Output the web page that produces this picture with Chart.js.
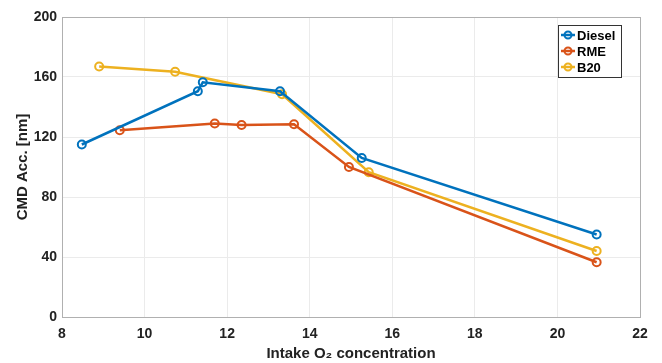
<!DOCTYPE html>
<html lang="en">
<head>
    <meta charset="UTF-8">
    <title>CMD Acc. vs Intake O2</title>
    <script src="https://cdn.jsdelivr.net/npm/chart.js"></script>
    <style>
        html, body { margin: 0; padding: 0; background: #fff; }
        #wrap { width: 662px; height: 363px; }
    </style>
</head>
<body>
    <div id="wrap"><canvas id="chart" width="662" height="363"></canvas></div>
    <script>
        // data
        var seriesNames = ['Diesel', 'RME', 'B20'];
        var seriesColors = ['#0072BD', '#D95319', '#EDB120'];

        var dieselX = [8.48, 11.29, 11.41, 13.28, 15.26, 20.95];
        var dieselY = [115, 150.5, 156.5, 150.5, 106, 55];

        var rmeX = [9.40, 11.70, 12.35, 13.62, 14.95, 20.95];
        var rmeY = [124.5, 129, 128, 128.5, 100, 36.5];

        var b20X = [8.90, 10.74, 13.33, 15.43, 20.95];
        var b20Y = [167, 163.5, 148.5, 96.5, 44];

        var xTicks = [8, 10, 12, 14, 16, 18, 20, 22];
        var yTicks = [0, 40, 80, 120, 160, 200];

        function toPoints(xs, ys) {
            return xs.map(function (x, i) { return { x: x, y: ys[i] }; });
        }

        var allX = [dieselX, rmeX, b20X];
        var allY = [dieselY, rmeY, b20Y];

        var datasets = seriesNames.map(function (name, i) {
            return {
                label: name,
                data: toPoints(allX[i], allY[i]),
                borderColor: seriesColors[i],
                backgroundColor: '#ffffff',
                borderWidth: 2.5,
                pointRadius: 4,
                pointBorderWidth: 2,
                pointBackgroundColor: 'rgba(255,255,255,0)',
                pointBorderColor: seriesColors[i],
                tension: 0,
                showLine: true
            };
        });

        // box round the plot + legend drawn inside, MATLAB style
        var boxAndLegend = {
            id: 'boxAndLegend',
            afterDraw: function (chart) {
                var ctx = chart.ctx;
                var a = chart.chartArea;
                ctx.save();
                ctx.strokeStyle = '#b0b0b0';
                ctx.lineWidth = 1;
                ctx.strokeRect(a.left + 0.5, a.top + 0.5, a.right - a.left, a.bottom - a.top);

                var lx = 558, ly = 25, lw = 63, lh = 52;
                ctx.fillStyle = '#ffffff';
                ctx.fillRect(lx, ly, lw, lh);
                ctx.strokeStyle = '#333333';
                ctx.strokeRect(lx + 0.5, ly + 0.5, lw, lh);
                ctx.font = 'bold 13px "Liberation Sans", Arial, sans-serif';
                ctx.textBaseline = 'middle';
                seriesNames.forEach(function (name, i) {
                    var yy = ly + 10 + i * 16;
                    ctx.strokeStyle = seriesColors[i];
                    ctx.lineWidth = 2.5;
                    ctx.beginPath();
                    ctx.moveTo(lx + 3, yy);
                    ctx.lineTo(lx + 17, yy);
                    ctx.stroke();
                    ctx.lineWidth = 2;
                    ctx.beginPath();
                    ctx.arc(lx + 10, yy, 3.5, 0, Math.PI * 2);
                    ctx.stroke();
                    ctx.fillStyle = '#000000';
                    ctx.fillText(name, lx + 19, yy + 1);
                });
                ctx.restore();
            }
        };

        var tickFont = { family: '"Liberation Sans", Arial, sans-serif', size: 14, weight: 'bold' };
        var titleFont = { family: '"Liberation Sans", Arial, sans-serif', size: 15, weight: 'bold' };

        new Chart(document.getElementById('chart'), {
            type: 'scatter',
            data: { datasets: datasets },
            plugins: [boxAndLegend],
            options: {
                responsive: false,
                animation: false,
                layout: { padding: { top: 17, right: 22, left: 14, bottom: 0 } },
                plugins: {
                    legend: { display: false },
                    tooltip: { enabled: false }
                },
                scales: {
                    x: {
                        type: 'linear',
                        min: 8,
                        max: 22,
                        afterBuildTicks: function (s) { s.ticks = xTicks.map(function (v) { return { value: v }; }); },
                        afterFit: function (s) { s.height = 46; },
                        grid: { color: '#ebebeb', drawTicks: false },
                        border: { display: false },
                        ticks: { color: '#222', font: tickFont, padding: 9, maxRotation: 0 },
                        title: { display: true, text: 'Intake O\u2082 concentration', color: '#222', font: titleFont, padding: { top: 0, bottom: 0 } }
                    },
                    y: {
                        min: 0,
                        max: 200,
                        afterBuildTicks: function (s) { s.ticks = yTicks.map(function (v) { return { value: v }; }); },
                        afterFit: function (s) { s.width = 48; },
                        grid: { color: '#ebebeb', drawTicks: false },
                        border: { display: false },
                        ticks: { color: '#222', font: tickFont, padding: 5 },
                        title: { display: true, text: 'CMD Acc. [nm]', color: '#222', font: titleFont, padding: { top: 0, bottom: 2 } }
                    }
                }
            }
        });
    </script>
</body>
</html>
